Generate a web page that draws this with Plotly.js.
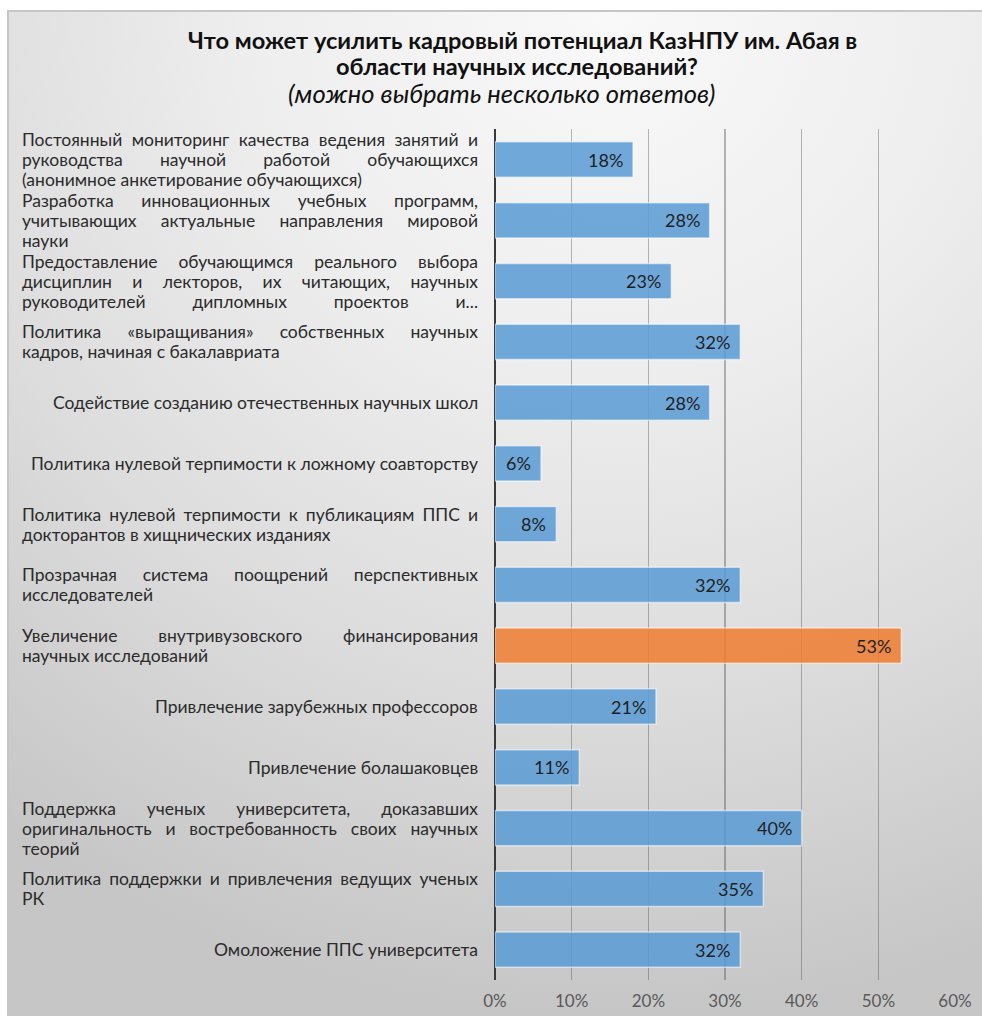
<!DOCTYPE html>
<html>
<head>
<meta charset="utf-8">
<script src="https://cdn.plot.ly/plotly-3.0.1.min.js"></script>
<style>
html, body { margin:0; padding:0; width:982px; height:1016px; overflow:hidden; background:#ffffff; }
#frame { position:absolute; left:7px; top:10px; right:0; bottom:0;
  border-top:2px solid #c6c6c6; border-left:2px solid #c6c6c6;
  background: radial-gradient(ellipse 105% 100% at 62% 0%, #f9f9f9 0%, #eeeeee 35%, #dcdcdc 68%, #c6c6c6 100%); }
#chart { position:absolute; left:0; top:0; width:982px; height:1016px; }
</style>
</head>
<body>
<div id="frame"></div>
<div id="chart"></div>
<script>
// ---------------- data ----------------
const titleLines = [
  'Что может усилить кадровый потенциал КазНПУ им. Абая в',
  'области научных исследований?'
];
const subtitle = '(можно выбрать несколько ответов)';

const labelLines = [
  ['Постоянный мониторинг качества ведения занятий и', 'руководства научной работой обучающихся', '(анонимное анкетирование обучающихся)'],
  ['Разработка инновационных учебных программ,', 'учитывающих актуальные направления мировой', 'науки'],
  ['Предоставление обучающимся реального выбора', 'дисциплин и лекторов, их читающих, научных', 'руководителей дипломных проектов и...'],
  ['Политика «выращивания» собственных научных', 'кадров, начиная с бакалавриата'],
  ['Содействие созданию отечественных научных школ'],
  ['Политика нулевой терпимости к ложному соавторству'],
  ['Политика нулевой терпимости к публикациям ППС и', 'докторантов в хищнических изданиях'],
  ['Прозрачная система поощрений перспективных', 'исследователей'],
  ['Увеличение внутривузовского финансирования', 'научных исследований'],
  ['Привлечение зарубежных профессоров'],
  ['Привлечение болашаковцев'],
  ['Поддержка ученых университета, доказавших', 'оригинальность и востребованность своих научных', 'теорий'],
  ['Политика поддержки и привлечения ведущих ученых', 'РК'],
  ['Омоложение ППС университета']
];
const values = [18, 28, 23, 32, 28, 6, 8, 32, 53, 21, 11, 40, 35, 32];
const categories = labelLines.map(l => l.join(' '));

// ---------------- styling helpers ----------------
const LF = 'Lato';
const TF = 'Lato';
const BLOCK_W = 456;      // width of justified label block (px)
const LINE_H = 20;        // label line spacing (px)
const ctx = document.createElement('canvas').getContext('2d');
function tw(t, font) { ctx.font = font; return ctx.measureText(t).width; }

let labelSize = 14 * 448 / tw('Политика нулевой терпимости к ложному соавторству', `14px "${LF}"`);
labelLines.forEach(lines => lines.forEach(ln => {
  if (lines.length > 1) {
    const s = 14 * (BLOCK_W - 6) / tw(ln, `14px "${LF}"`);
    if (s < labelSize) labelSize = s;
  }
}));
labelSize = Math.round(labelSize * 10) / 10;

function justify(line) {
  const font = `${labelSize}px "${LF}"`;
  const gaps = line.split(' ').length - 1;
  if (gaps < 1) return line;
  const ws = Math.max(0, (BLOCK_W - tw(line, font)) / gaps);
  return '<span style="word-spacing:' + ws.toFixed(2) + 'px">' + line + '</span>';
}

const titleSize = Math.round(10 * 20 * 668 / tw(titleLines[0], `bold 20px "${TF}"`)) / 10;
const subSize = Math.round(10 * 18 * 428 / tw(subtitle, `italic 18px "${TF}"`)) / 10;
const titleCenters = [522, 517];
const titleYs = [40, 66];

const annotations = [];
titleLines.forEach((t, i) => {
  annotations.push({
    xref: 'paper', yref: 'paper', x: 0, y: 1, xanchor: 'center', yanchor: 'middle',
    xshift: titleCenters[i] - 495, yshift: 129 - titleYs[i], showarrow: false, borderpad: 0,
    text: '<b>' + t + '</b>', font: { family: TF, size: titleSize, color: '#111111' }
  });
});
annotations.push({
  xref: 'paper', yref: 'paper', x: 0, y: 1, xanchor: 'center', yanchor: 'middle',
  xshift: 501 - 495, yshift: 129 - 93, showarrow: false, borderpad: 0,
  text: '<i>' + subtitle + '</i>', font: { family: TF, size: subSize, color: '#111111' }
});

labelLines.forEach((lines, ci) => {
  const n = lines.length;
  lines.forEach((ln, li) => {
    const lastOfPara = (li === n - 1) && !ln.endsWith('...');
    const single = n === 1;
    annotations.push({
      xref: 'paper', yref: 'y', x: 0, y: categories[ci],
      xanchor: single ? 'right' : 'left', yanchor: 'middle',
      xshift: single ? -17 : -473,
      yshift: ((n - 1) / 2 - li) * LINE_H,
      showarrow: false, borderpad: 0, borderwidth: 0,
      text: (lastOfPara || single) ? ln : justify(ln),
      font: { family: LF, size: labelSize, color: '#2b2b2b' }
    });
  });
});

values.forEach((v, i) => {
  annotations.push({
    xref: 'x', yref: 'y', x: v, y: categories[i],
    xanchor: 'right', yanchor: 'middle', xshift: -9, showarrow: false, borderpad: 0,
    text: v + '%', font: { family: LF, size: 18, color: '#1f1f1f' }
  });
});

const maxV = Math.max(...values);
const barColors = values.map(v => v === maxV ? 'rgba(237,125,49,0.86)' : 'rgba(91,155,213,0.86)');

const trace = {
  type: 'bar', orientation: 'h',
  x: values, y: categories,
  width: 0.58,
  marker: { color: barColors, line: { color: 'rgba(255,255,255,0.55)', width: 1.5 } },
  hoverinfo: 'none', textposition: 'none'
};

const layout = {
  width: 982, height: 1016,
  margin: { l: 495, r: 27, t: 129, b: 36, pad: 0 },
  paper_bgcolor: 'rgba(0,0,0,0)', plot_bgcolor: 'rgba(0,0,0,0)',
  showlegend: false,
  xaxis: {
    range: [0, 60], dtick: 10, tick0: 0, ticksuffix: '%',
    showgrid: true, gridcolor: 'rgba(70,70,70,0.38)', gridwidth: 1.6,
    zeroline: true, zerolinecolor: '#3a3a3a', zerolinewidth: 2.6,
    showline: false, ticks: '', fixedrange: true, ticklabelstandoff: 9,
    tickfont: { family: LF, size: 17, color: '#595959' }
  },
  yaxis: {
    type: 'category', autorange: 'reversed', showticklabels: false,
    showgrid: false, zeroline: false, showline: false, ticks: '', fixedrange: true
  },
  annotations: annotations
};

Plotly.newPlot('chart', [trace], layout, { displayModeBar: false, staticPlot: true });
</script>
</body>
</html>
